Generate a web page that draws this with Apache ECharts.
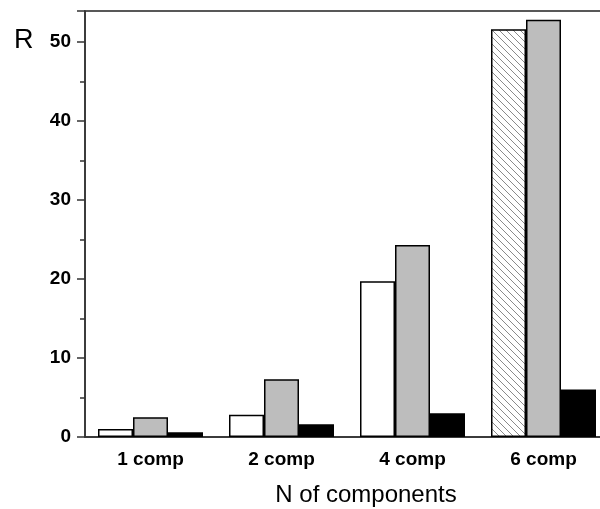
<!DOCTYPE html>
<html>
<head>
<meta charset="utf-8">
<script src="https://cdn.jsdelivr.net/npm/echarts@6/dist/echarts.min.js"></script>
<style>
  html, body { margin: 0; padding: 0; background: #fff; overflow: hidden; }
  #chart { width: 620px; height: 509px; }
</style>
</head>
<body>
<div id="chart"></div>
<script>
// Categories and bar values (R per number of components)
const categories = ['1 comp', '2 comp', '4 comp', '6 comp'];
const seriesOpen  = [1.0, 2.8, 19.7, 51.6];   // open bars (last one hatched)
const seriesGray  = [2.5, 7.3, 24.3, 52.8];
const seriesBlack = [0.6, 1.6, 3.0, 6.0];
const yTicks = [0, 10, 20, 30, 40, 50];

// Diagonal hatch fill used for the last open bar
function hatchPattern() {
  const c = document.createElement('canvas');
  c.width = 7; c.height = 7;
  const g = c.getContext('2d');
  g.fillStyle = '#fff';
  g.fillRect(0, 0, 7, 7);
  g.strokeStyle = '#8a8a8a';
  g.lineWidth = 1;
  g.beginPath();
  g.moveTo(-1, -1); g.lineTo(8, 8);
  g.moveTo(-8, -1); g.lineTo(1, 8);
  g.moveTo(6, -1); g.lineTo(15, 8);
  g.stroke();
  return { image: c, repeat: 'repeat' };
}

const FONT = 'Liberation Sans, Arial, sans-serif';
const chart = echarts.init(document.getElementById('chart'), null, { renderer: 'canvas' });
const labelFont = { fontFamily: FONT, fontWeight: 'bold', fontSize: 19, color: '#000' };

const openData = seriesOpen.map((v, i) => i === categories.length - 1
  ? { value: v, itemStyle: { color: hatchPattern() } }
  : v);

chart.setOption({
  animation: false,
  grid: {
    left: 85, top: 11, width: 524, height: 426,
    outerBoundsMode: 'none',
    show: true, borderColor: '#222', borderWidth: 1.5, backgroundColor: 'transparent'
  },
  graphic: [{
    type: 'text', left: 14, top: 27,
    style: { text: 'R', font: '27px ' + FONT, fill: '#000' }
  }],
  xAxis: {
    type: 'category',
    data: categories,
    axisLine: { lineStyle: { color: '#333', width: 1.5 } },
    axisTick: { show: false },
    axisLabel: Object.assign({ margin: 13 }, labelFont),
    name: 'N of components',
    nameLocation: 'middle',
    nameGap: 46,
    nameTextStyle: { fontFamily: FONT, fontSize: 24, color: '#000', padding: [0, 0, 0, 38] }
  },
  yAxis: {
    type: 'value',
    min: 0,
    max: 53.9,
    interval: 10,
    splitLine: { show: false },
    axisLine: { show: true, lineStyle: { color: '#333', width: 1.5 } },
    axisTick: { show: true, length: 8, lineStyle: { color: '#333', width: 1.5 } },
    minorTick: { show: true, splitNumber: 2, length: 5, lineStyle: { color: '#333', width: 1.5 } },
    axisLabel: Object.assign({ margin: 14, formatter: v => yTicks.includes(v) ? String(v) : '' }, labelFont)
  },
  series: [
    { type: 'bar', data: openData, barWidth: 35, barGap: '0%',
      itemStyle: { color: '#fff', borderColor: '#000', borderWidth: 1.5 } },
    { type: 'bar', data: seriesGray, barWidth: 35, barGap: '0%',
      itemStyle: { color: '#bdbdbd', borderColor: '#000', borderWidth: 1.5 } },
    { type: 'bar', data: seriesBlack, barWidth: 35, barGap: '0%',
      itemStyle: { color: '#000', borderColor: '#000', borderWidth: 1.5 } }
  ]
});
</script>
</body>
</html>
